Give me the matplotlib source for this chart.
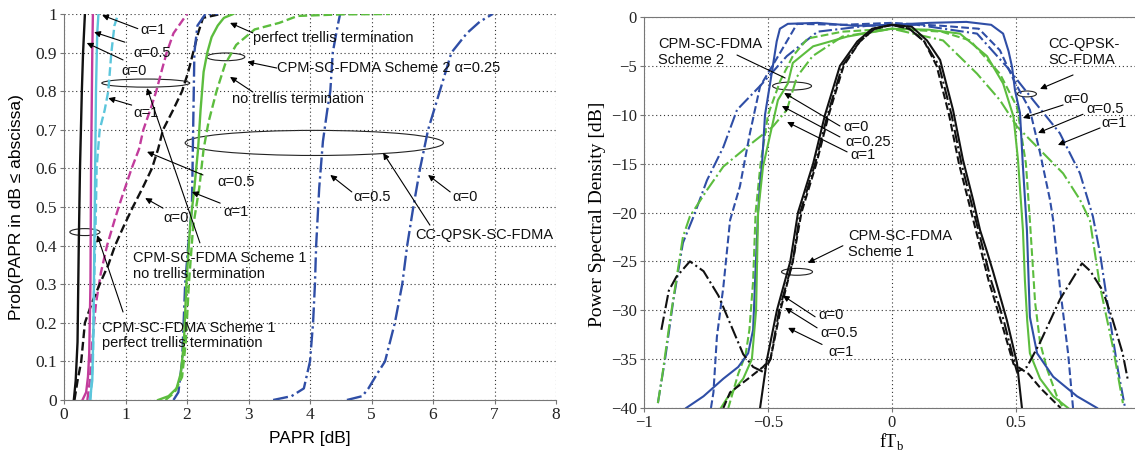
import matplotlib
matplotlib.use("Agg")
import matplotlib.pyplot as plt
from matplotlib.patches import Ellipse

SANS = ["Liberation Sans", "DejaVu Sans"]
SERIF = ["Liberation Serif", "DejaVu Serif"]
plt.rcParams["font.family"] = SERIF

BLACK, MAG, CYAN, BLUE, GREEN = "#111111", "#c23c9c", "#5cc6dc", "#2f4ea6", "#5cbd3e"

# ---------------- left: PAPR CDF ----------------
# Scheme 1, perfect trellis termination
s1p_a0_x = [0.16, 0.19, 0.22, 0.24, 0.26, 0.29, 0.31, 0.34]
s1p_a0_y = [0.0, 0.05, 0.15, 0.4, 0.6, 0.8, 0.9, 1.0]
s1p_a05_x = [0.30, 0.36, 0.39, 0.41, 0.43, 0.44, 0.46, 0.47]
s1p_a05_y = [0.0, 0.02, 0.06, 0.12, 0.3, 0.6, 0.9, 1.0]
s1p_a1_x = [0.42, 0.46, 0.48, 0.50, 0.52, 0.54, 0.56]
s1p_a1_y = [0.0, 0.05, 0.2, 0.5, 0.8, 0.95, 1.0]
# Scheme 1, no trellis termination
s1n_a0_x = [0.17, 0.22, 0.28, 0.34, 0.45, 0.58, 0.72, 0.83, 0.97, 1.12, 1.28, 1.43, 1.53,
            1.61, 1.77, 1.92, 2.02, 2.10, 2.18, 2.26, 2.55]
s1n_a0_y = [0.0, 0.05, 0.1, 0.2, 0.25, 0.3, 0.35, 0.4, 0.45, 0.5, 0.55, 0.6, 0.65,
            0.7, 0.75, 0.8, 0.85, 0.9, 0.95, 0.99, 1.0]
s1n_a05_x = [0.38, 0.42, 0.46, 0.52, 0.60, 0.70, 0.83, 0.93, 1.10, 1.22, 1.29, 1.42, 1.50,
             1.60, 1.67, 1.78, 2.00]
s1n_a05_y = [0.0, 0.05, 0.15, 0.25, 0.33, 0.4, 0.47, 0.52, 0.6, 0.65, 0.7, 0.76, 0.8,
             0.86, 0.9, 0.95, 1.0]
s1n_a1_x = [0.43, 0.47, 0.49, 0.52, 0.53, 0.58, 0.66, 0.72, 0.77, 0.82, 0.88]
s1n_a1_y = [0.0, 0.1, 0.3, 0.5, 0.6, 0.7, 0.75, 0.8, 0.9, 0.97, 1.0]
# Scheme 2 alpha=0.25
s2p_x = [1.53, 1.70, 1.83, 1.90, 1.95, 1.99, 2.05, 2.12, 2.18, 2.22, 2.27, 2.33, 2.40, 2.50, 2.60, 2.75]
s2p_y = [0.0, 0.01, 0.03, 0.07, 0.15, 0.3, 0.45, 0.55, 0.65, 0.75, 0.85, 0.9, 0.94, 0.97, 0.99, 1.0]
s2n_x = [1.65, 1.80, 1.92, 1.98, 2.03, 2.10, 2.20, 2.27, 2.35, 2.48, 2.62, 2.80, 3.10, 3.50, 3.80, 4.50, 5.30]
s2n_y = [0.0, 0.02, 0.06, 0.15, 0.3, 0.45, 0.55, 0.65, 0.72, 0.8, 0.87, 0.92, 0.96, 0.977, 0.995, 0.999, 1.0]
# CC-QPSK-SC-FDMA
cc_a1_x = [1.78, 1.86, 1.92, 1.97, 2.02, 2.08, 2.10, 2.12, 2.17, 2.30, 2.50]
cc_a1_y = [0.0, 0.02, 0.1, 0.3, 0.4, 0.5, 0.7, 0.9, 0.97, 1.0, 1.0]
cc_a05_x = [3.40, 3.70, 3.90, 4.00, 4.05, 4.08, 4.10, 4.15, 4.21, 4.28, 4.33, 4.37, 4.45, 4.49]
cc_a05_y = [0.0, 0.01, 0.03, 0.1, 0.2, 0.3, 0.4, 0.55, 0.67, 0.75, 0.8, 0.9, 0.97, 1.0]
cc_a0_x = [4.60, 4.85, 4.95, 5.10, 5.22, 5.38, 5.50, 5.58, 5.68, 5.79, 5.92, 6.11, 6.30, 6.55, 6.76, 6.97]
cc_a0_y = [0.0, 0.01, 0.03, 0.07, 0.1, 0.2, 0.3, 0.4, 0.5, 0.6, 0.7, 0.8, 0.9, 0.95, 0.98, 1.0]

# ---------------- right: PSD ----------------
qp_a0_x = [-0.83, -0.76, -0.68, -0.62, -0.58, -0.56, -0.552, -0.54, -0.532, -0.524, -0.512, -0.484,
           -0.465, -0.452, -0.42, -0.3, -0.15, 0.0, 0.15, 0.3, 0.4, 0.448, 0.47, 0.484, 0.496, 0.516,
           0.528, 0.544, 0.556, 0.585, 0.65, 0.746, 0.827]
qp_a0_y = [-40, -38.8, -37, -35.8, -34.4, -32, -27, -20, -17, -15, -10, -5.6,
           -2.5, -1.2, -0.7, -0.6, -0.9, -0.8, -0.6, -0.5, -0.8, -1.7, -3.5, -5.1, -7.5, -9.8,
           -15.3, -21.8, -30.7, -34.4, -36.8, -38.8, -40]
qp_a05_x = [-0.73, -0.72, -0.706, -0.68, -0.653, -0.613, -0.573, -0.532, -0.452, -0.383, -0.2, 0.0,
            0.2, 0.35, 0.435, 0.49, 0.556, 0.597, 0.637, 0.65, 0.677, 0.71, 0.73]
qp_a05_y = [-40, -38.4, -32.7, -27.6, -20.8, -17.3, -11.9, -7.1, -3.7, -0.7, -0.8, -0.6,
            -0.9, -1.2, -3.4, -6.4, -9.5, -13.9, -18.7, -20.8, -27.6, -34.4, -40]
qp_a1_x = [-0.944, -0.915, -0.883, -0.843, -0.8, -0.746, -0.68, -0.625, -0.53, -0.424, -0.3, -0.1,
           0.1, 0.343, 0.463, 0.569, 0.677, 0.758, 0.81, 0.839, 0.879, 0.911, 0.94]
qp_a1_y = [-39.5, -35, -29.2, -23.1, -20.4, -16.7, -13.3, -9.5, -7, -4, -1.5, -0.9,
           -0.8, -1.7, -5.1, -8.5, -11.9, -16, -20.4, -24.2, -31, -36.1, -40]
sc2_a0_x = [-0.69, -0.665, -0.6, -0.565, -0.548, -0.544, -0.54, -0.52, -0.49, -0.46, -0.42, -0.4,
            -0.318, -0.18, 0.0, 0.15, 0.274, 0.383, 0.448, 0.49, 0.508, 0.528, 0.536, 0.545, 0.556,
            0.597, 0.65, 0.71]
sc2_a0_y = [-40, -39, -37, -35, -30, -25, -20, -15.3, -11.9, -8.5, -6.8, -4.7,
            -3, -2, -1.2, -1.3, -1.7, -4, -6.8, -10.2, -14.6, -21.8, -27, -31, -34.4,
            -37, -38.8, -40]
sc2_a025_x = [-0.66, -0.62, -0.59, -0.575, -0.56, -0.55, -0.53, -0.5, -0.45, -0.40, -0.34, -0.2, 0.0,
              0.2, 0.315, 0.435, 0.504, 0.54, 0.556, 0.577, 0.597, 0.625, 0.665, 0.69]
sc2_a025_y = [-40, -36.5, -34.5, -32, -27, -20, -15, -10, -6.5, -4, -2.2, -1.5, -1.2,
              -1.5, -2.4, -5.8, -9.2, -15, -20.8, -29.2, -33.3, -36, -38.8, -40]
sc2_a1_x = [-0.944, -0.927, -0.895, -0.843, -0.815, -0.746, -0.68, -0.585, -0.48, -0.424, -0.383,
            -0.32, -0.2, 0.0, 0.206, 0.343, 0.435, 0.504, 0.597, 0.69, 0.758, 0.798, 0.839, 0.891, 0.931]
sc2_a1_y = [-39.5, -36.8, -31, -22.5, -20.4, -17.7, -15.3, -13.3, -11.2, -9.5, -6.1,
            -4, -2, -1.2, -2.4, -5.8, -8.5, -11.2, -13.6, -16, -18.7, -20.8, -27.6, -33.8, -39.5]
sc1_a0_x = [-0.532, -0.504, -0.464, -0.41, -0.379, -0.318, -0.27, -0.21, -0.14, -0.08, 0.0, 0.08,
            0.141, 0.194, 0.246, 0.286, 0.327, 0.355, 0.383, 0.407, 0.463, 0.504, 0.524]
sc1_a0_y = [-40, -35, -30, -25, -20, -15, -10, -5, -2.5, -1.2, -0.8, -1,
            -2.4, -4.4, -9.5, -14.6, -18.7, -21.8, -24, -26, -31, -35.4, -40]
sc1_a05_x = [-0.68, -0.653, -0.58, -0.52, -0.49, -0.45, -0.40, -0.365, -0.305, -0.255, -0.195, -0.13,
             -0.07, 0.0, 0.07, 0.13, 0.18, 0.23, 0.27, 0.31, 0.34, 0.37, 0.39, 0.45, 0.49, 0.55, 0.6, 0.68]
sc1_a05_y = [-40, -38.4, -37, -35.8, -35, -30, -25, -20, -15, -10, -5, -2.5,
             -1.2, -0.8, -1.2, -2.5, -5, -10, -15, -19, -22, -25, -27, -32, -35.5, -36.5, -38, -40]
sc1_a1_x = [-0.93, -0.9, -0.87, -0.815, -0.76, -0.7, -0.65, -0.6, -0.56, -0.52, -0.5, -0.49, -0.455,
            -0.4, -0.37, -0.31, -0.26, -0.2, -0.13, -0.07, 0.0, 0.07, 0.13, 0.19, 0.24, 0.28, 0.32,
            0.35, 0.38, 0.40, 0.45, 0.49, 0.504, 0.544, 0.597, 0.677, 0.766, 0.8, 0.85, 0.89, 0.93, 0.95]
sc1_a1_y = [-32, -28, -26.6, -25, -26, -28.5, -31.5, -34.5, -35.8, -36.3, -35.5, -35, -30,
            -25, -20, -15, -10, -5, -2.5, -1.2, -0.8, -1.2, -2.5, -5, -10, -15, -19,
            -22, -25, -27, -31, -35, -36.3, -35.8, -33.3, -28.9, -25.2, -26, -28, -31, -34.4, -37]

fig = plt.figure(figsize=(11.35, 4.55), dpi=100)
axL = fig.add_axes([64 / 1135, 55 / 455, 492 / 1135, 386 / 455])
axR = fig.add_axes([644 / 1135, 47 / 455, 496 / 1135, 391 / 455])

lw = 1.7
axL.plot(s1n_a05_x, s1n_a05_y, "--", color=MAG, lw=lw)
axL.plot(s1n_a1_x, s1n_a1_y, "--", color=CYAN, lw=lw)
axL.plot(s1n_a0_x, s1n_a0_y, "--", color=BLACK, lw=lw)
axL.plot(s1p_a1_x, s1p_a1_y, "-", color=CYAN, lw=lw)
axL.plot(s1p_a05_x, s1p_a05_y, "-", color=MAG, lw=lw)
axL.plot(s1p_a0_x, s1p_a0_y, "-", color=BLACK, lw=lw)
axL.plot(cc_a1_x, cc_a1_y, "-.", color=BLUE, lw=lw)
axL.plot(cc_a05_x, cc_a05_y, "-.", color=BLUE, lw=lw)
axL.plot(cc_a0_x, cc_a0_y, "-.", color=BLUE, lw=lw)
axL.plot(s2n_x, s2n_y, "--", color=GREEN, lw=lw)
axL.plot(s2p_x, s2p_y, "-", color=GREEN, lw=lw)

axR.plot(qp_a1_x, qp_a1_y, "-.", color=BLUE, lw=1.5)
axR.plot(sc2_a1_x, sc2_a1_y, "-.", color=GREEN, lw=1.5)
axR.plot(qp_a05_x, qp_a05_y, "--", color=BLUE, lw=1.5)
axR.plot(sc2_a025_x, sc2_a025_y, "--", color=GREEN, lw=1.5)
axR.plot(qp_a0_x, qp_a0_y, "-", color=BLUE, lw=1.5)
axR.plot(sc2_a0_x, sc2_a0_y, "-", color=GREEN, lw=1.5)
axR.plot(sc1_a1_x, sc1_a1_y, "-.", color=BLACK, lw=1.5)
axR.plot(sc1_a05_x, sc1_a05_y, "--", color=BLACK, lw=1.5)
axR.plot(sc1_a0_x, sc1_a0_y, "-", color=BLACK, lw=1.5)

# axes styling
for ax in (axL, axR):
    ax.grid(True, color="#333333", linestyle=(0, (1, 2.5)), lw=0.8)
    ax.tick_params(direction="out", length=3, color="#777777", labelcolor="#222222", pad=2)
    for sp in ax.spines.values():
        sp.set_color("#777777")
axL.spines["top"].set_visible(False)
axL.spines["right"].set_visible(False)
axR.spines["right"].set_visible(False)

axL.set_xlim(0, 8)
axL.set_ylim(0, 1)
axL.set_xticks(range(9))
axL.set_yticks([i / 10 for i in range(11)])
axL.set_yticklabels(["0"] + [f"0.{i}" for i in range(1, 10)] + ["1"])
axL.tick_params(labelsize=12.5)

axR.set_xlim(-1, 1)
axR.set_ylim(-40, 0)
axR.set_xticks([-1, -0.5, 0, 0.5])
axR.set_xticklabels(["\u22121", "\u22120.5", "0", "0.5"])
axR.set_yticks(range(-40, 1, 5))
axR.set_yticklabels([("\u2212" + str(-v)) if v < 0 else "0" for v in range(-40, 1, 5)])
axR.tick_params(labelsize=12)

fig.text(310 / 1135, 1 - 438 / 455, "PAPR [dB]", family=SANS, fontsize=12.5, ha="center", va="center")
fig.text(17 / 1135, 1 - 207 / 455, "Prob(PAPR in dB \u2264 abscissa)", family=SANS, fontsize=12.5,
         rotation=90, ha="center", va="center")
fig.text(597 / 1135, 1 - 214 / 455, "Power Spectral Density [dB]", fontsize=14,
         rotation=90, ha="center", va="center")
fig.text(892 / 1135, 1 - 441 / 455, r"fT$_\mathregular{b}$", fontsize=13, ha="center", va="center")

AP = dict(arrowstyle="-|>", color="k", lw=0.8, shrinkA=0, shrinkB=0, mutation_scale=9)
TF = dict(family=SANS, fontsize=10.5, color="#111111", va="center", ha="left")


def arrow(ax, tail, head):
    ax.annotate("", xy=head, xytext=tail, arrowprops=AP)


def line(ax, tail, head):
    ax.annotate("", xy=head, xytext=tail,
                arrowprops=dict(arrowstyle="-", color="k", lw=0.8, shrinkA=0, shrinkB=0))


def ell(ax, c, w, h):
    ax.add_patch(Ellipse(c, w, h, fill=False, ec="#222222", lw=0.8))


# left annotations
axL.text(1.24, 0.959, "\u03b1=1", **TF); arrow(axL, (1.2, 0.962), (0.62, 0.997))
axL.text(1.12, 0.899, "\u03b1=0.5", **TF); arrow(axL, (0.99, 0.927), (0.49, 0.953))
axL.text(0.94, 0.852, "\u03b1=0", **TF); arrow(axL, (0.96, 0.881), (0.37, 0.925))
ell(axL, (1.33, 0.821), 1.43, 0.021)
axL.text(1.12, 0.743, "\u03b1=1", **TF); arrow(axL, (1.1, 0.764), (0.72, 0.782))
arrow(axL, (2.21, 0.407), (1.35, 0.808))
axL.text(2.49, 0.565, "\u03b1=0.5", **TF); arrow(axL, (2.26, 0.583), (1.35, 0.643))
axL.text(2.59, 0.487, "\u03b1=1", **TF); arrow(axL, (2.54, 0.51), (2.08, 0.539))
axL.text(1.61, 0.472, "\u03b1=0", **TF); arrow(axL, (1.61, 0.497), (1.32, 0.523))
ell(axL, (0.34, 0.435), 0.49, 0.018)
arrow(axL, (0.96, 0.228), (0.54, 0.427))
axL.text(0.62, 0.167, "CPM-SC-FDMA Scheme 1\nperfect trellis termination", linespacing=1.15, **TF)
axL.text(1.12, 0.347, "CPM-SC-FDMA Scheme 1\nno trellis termination", linespacing=1.15, **TF)
axL.text(3.07, 0.938, "perfect trellis termination", **TF); arrow(axL, (3.07, 0.951), (2.7, 0.977))
ell(axL, (2.63, 0.889), 0.62, 0.02)
axL.text(3.46, 0.86, "CPM-SC-FDMA Scheme 2 \u03b1=0.25", **TF); arrow(axL, (3.46, 0.86), (2.98, 0.876))
axL.text(2.73, 0.78, "no trellis termination", **TF); arrow(axL, (3.07, 0.798), (2.7, 0.837))
ell(axL, (4.07, 0.666), 4.2, 0.065)
arrow(axL, (5.95, 0.453), (5.19, 0.64))
axL.text(5.71, 0.427, "CC-QPSK-SC-FDMA", **TF)
axL.text(4.70, 0.526, "\u03b1=0.5", **TF); arrow(axL, (4.68, 0.539), (4.33, 0.583))
axL.text(6.31, 0.526, "\u03b1=0", **TF); arrow(axL, (6.28, 0.539), (5.92, 0.583))

# right annotations
axR.text(-0.944, -3.58, "CPM-SC-FDMA\nScheme 2", linespacing=1.15, **TF)
line(axR, (-0.625, -3.89), (-0.431, -6.24))
ell(axR, (-0.403, -7.06), 0.157, 0.82)
axR.text(-0.198, -11.25, "\u03b1=0", **TF); arrow(axR, (-0.21, -11.15), (-0.435, -7.77))
axR.text(-0.19, -12.78, "\u03b1=0.25", **TF); arrow(axR, (-0.21, -12.27), (-0.444, -9.1))
axR.text(-0.169, -14.1, "\u03b1=1", **TF); arrow(axR, (-0.181, -13.8), (-0.423, -10.74))

axR.text(0.629, -3.58, "CC-QPSK-\nSC-FDMA", linespacing=1.15, **TF)
arrow(axR, (0.73, -5.93), (0.597, -7.36))
ell(axR, (0.544, -7.87), 0.077, 0.6)
axR.text(0.69, -8.4, "\u03b1=0", **TF); arrow(axR, (0.69, -9.0), (0.528, -10.33))
axR.text(0.782, -9.45, "\u03b1=0.5", **TF); arrow(axR, (0.77, -9.95), (0.589, -11.86))
axR.text(0.845, -10.8, "\u03b1=1", **TF); arrow(axR, (0.839, -11.35), (0.669, -13.09))

axR.text(-0.177, -23.2, "CPM-SC-FDMA\nScheme 1", linespacing=1.15, **TF)
arrow(axR, (-0.198, -23.4), (-0.339, -25.15))
ell(axR, (-0.383, -26.07), 0.125, 0.7)
axR.text(-0.298, -30.47, "\u03b1=0", **TF); arrow(axR, (-0.31, -30.67), (-0.44, -28.5))
axR.text(-0.29, -32.3, "\u03b1=0.5", **TF); arrow(axR, (-0.302, -31.8), (-0.431, -29.75))
axR.text(-0.258, -34.25, "\u03b1=1", **TF); arrow(axR, (-0.282, -33.5), (-0.419, -31.8))

fig.savefig("out.png", dpi=100)
